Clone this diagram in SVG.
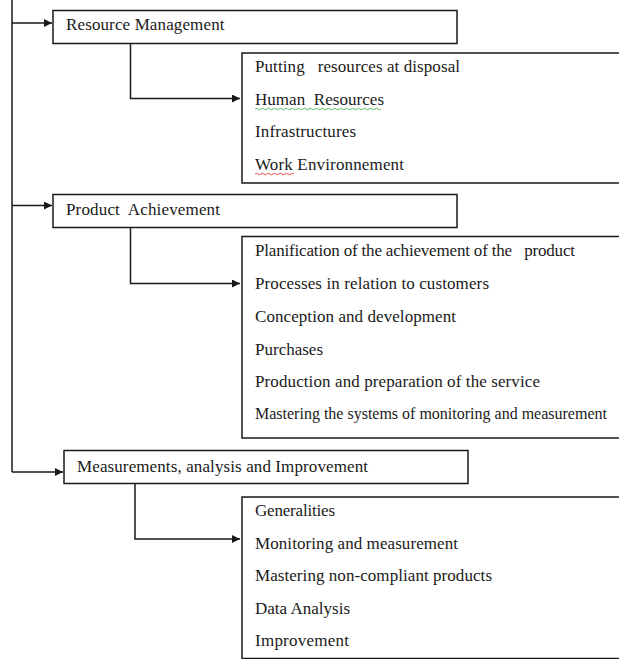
<svg xmlns="http://www.w3.org/2000/svg" width="619" height="659" viewBox="0 0 619 659">
  <defs>
    <style>
      .box { fill: #ffffff; stroke: #1a1a1a; stroke-width: 1.5; }
      .conn { fill: none; stroke: #1a1a1a; stroke-width: 1.5; }
      .t { font-family: "Liberation Serif", "Times New Roman", serif; font-size: 17px; fill: #1a1a1a; white-space: pre; }
      .wavy-g { fill: none; stroke: #4caf50; stroke-width: 0.9; }
      .wavy-r { fill: none; stroke: #e53935; stroke-width: 0.9; }
    </style>
    <marker id="arrow" viewBox="0 0 10 10" refX="10" refY="5" markerWidth="9" markerHeight="8" markerUnits="userSpaceOnUse" orient="auto">
      <path d="M0,0 L10,5 L0,10 Z" fill="#1a1a1a"/>
    </marker>
  </defs>
  <rect width="619" height="659" fill="#ffffff"/>

  <g id="connectors">
    <path class="conn" d="M12,0 V472"/>
    <path class="conn" d="M12,23 H52" marker-end="url(#arrow)"/>
    <path class="conn" d="M12,205.5 H52" marker-end="url(#arrow)"/>
    <path class="conn" d="M12,472 H63" marker-end="url(#arrow)"/>
    <path class="conn" d="M130.5,44 V98.5 H240" marker-end="url(#arrow)"/>
    <path class="conn" d="M130.5,228 V283.5 H240" marker-end="url(#arrow)"/>
    <path class="conn" d="M135,484 V539 H240" marker-end="url(#arrow)"/>
  </g>

  <g id="resource-management">
    <rect class="box" x="53" y="10.5" width="404" height="33"/>
    <text class="t" x="66" y="29.5" textLength="158.5" lengthAdjust="spacing">Resource Management</text>
  </g>

  <g id="resource-items">
    <rect class="box" x="242" y="53" width="400" height="130"/>
    <text class="t" x="255" y="72" textLength="205" lengthAdjust="spacing">Putting   resources at disposal</text>
    <text class="t" x="255" y="104.5" textLength="129" lengthAdjust="spacing">Human  Resources</text>
    <text class="t" x="255" y="137" textLength="101" lengthAdjust="spacing">Infrastructures</text>
    <text class="t" x="255" y="169.5" textLength="149" lengthAdjust="spacing">Work Environnement</text>
    <path class="wavy-g" d="M255,109 q1.5,-1.5 3,0 t3,0 t3,0 t3,0 t3,0 t3,0 t3,0 t3,0 t3,0 t3,0 t3,0 t3,0 t3,0 t3,0 t3,0 t3,0 t3,0 t3,0 t3,0 t3,0 t3,0 t3,0 t3,0 t3,0 t3,0 t3,0 t3,0 t3,0 t3,0 t3,0 t3,0 t3,0 t3,0 t3,0 t3,0 t3,0 t3,0 t3,0 t3,0 t3,0 t3,0 t3,0"/>
    <path class="wavy-r" d="M255,174 q1.5,-1.5 3,0 t3,0 t3,0 t3,0 t3,0 t3,0 t3,0 t3,0 t3,0 t3,0 t3,0 t3,0 t3,0"/>
  </g>

  <g id="product-achievement">
    <rect class="box" x="53" y="194.5" width="404" height="33"/>
    <text class="t" x="66" y="215" textLength="154" lengthAdjust="spacing">Product  Achievement</text>
  </g>

  <g id="product-items">
    <rect class="box" x="242" y="236.5" width="400" height="201.5"/>
    <text class="t" x="255" y="256" textLength="320" lengthAdjust="spacing">Planification of the achievement of the   product</text>
    <text class="t" x="255" y="289" textLength="234" lengthAdjust="spacing">Processes in relation to customers</text>
    <text class="t" x="255" y="322" textLength="201" lengthAdjust="spacing">Conception and development</text>
    <text class="t" x="255" y="355" textLength="68" lengthAdjust="spacing">Purchases</text>
    <text class="t" x="255" y="387" textLength="285" lengthAdjust="spacing">Production and preparation of the service</text>
    <text class="t" x="255" y="419" style="font-size:16px">Mastering the systems of monitoring and measurement</text>
  </g>

  <g id="measurements">
    <rect class="box" x="64" y="450.5" width="404" height="33"/>
    <text class="t" x="77" y="471.5" textLength="291" lengthAdjust="spacing">Measurements, analysis and Improvement</text>
  </g>

  <g id="measurement-items">
    <rect class="box" x="242" y="497" width="400" height="161.5"/>
    <text class="t" x="255" y="516" textLength="80" lengthAdjust="spacing">Generalities</text>
    <text class="t" x="255" y="548.5" textLength="203" lengthAdjust="spacing">Monitoring and measurement</text>
    <text class="t" x="255" y="581" textLength="237" lengthAdjust="spacing">Mastering non-compliant products</text>
    <text class="t" x="255" y="613.5" textLength="95" lengthAdjust="spacing">Data Analysis</text>
    <text class="t" x="255" y="645.5" textLength="94" lengthAdjust="spacing">Improvement</text>
  </g>
</svg>
